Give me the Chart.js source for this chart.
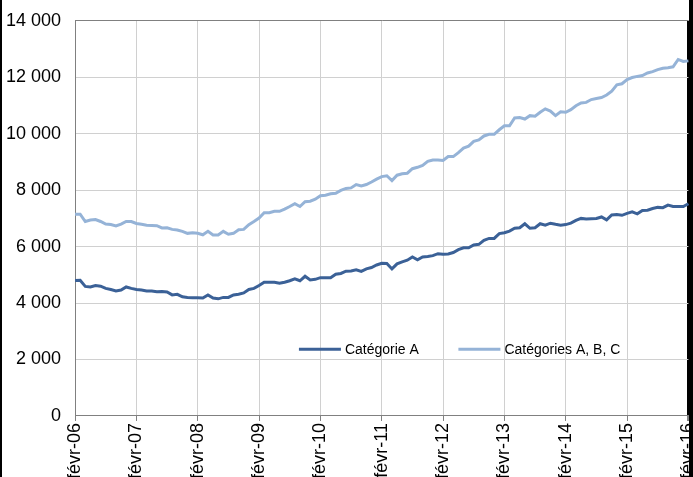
<!DOCTYPE html>
<html>
<head>
<meta charset="utf-8">
<script src="https://cdn.jsdelivr.net/npm/chart.js@4/dist/chart.umd.min.js"></script>
<style>
  html, body { margin: 0; padding: 0; background: #000; overflow: hidden; }
  #frame { position: absolute; left: 2px; top: 0; width: 687px; height: 477px; overflow: hidden; background: #fff; }
  #box { position: relative; left: -13px; top: -4px; width: 723px; height: 485px; }
</style>
</head>
<body>
<div id="frame"><div id="box"><canvas id="chart"></canvas></div></div>
<script>
// month names used for the category labels (févr-06 ... févr-16)
const monthNames = ['févr', 'mars', 'avr', 'mai', 'juin', 'juil', 'août', 'sept', 'oct', 'nov', 'déc', 'janv'];
const categories = [];
for (let i = 0; i <= 120; i++) {
    const year = 6 + Math.floor((i + 1) / 12);
    categories.push(monthNames[i % 12] + '-' + String(year).padStart(2, '0'));
}

const catA = [
    4800, 4810, 4590, 4570, 4620, 4600, 4520, 4480, 4430, 4460,
    4570, 4520, 4480, 4460, 4430, 4430, 4400, 4410, 4390, 4290,
    4310, 4220, 4200, 4190, 4190, 4180, 4290, 4180, 4150, 4200,
    4200, 4290, 4310, 4360, 4480, 4520, 4620, 4740, 4740, 4740,
    4700, 4740, 4790, 4860, 4790, 4950, 4820, 4840, 4900, 4900,
    4900, 5020, 5050, 5130, 5140, 5180, 5120, 5210, 5260, 5350,
    5410, 5400, 5210, 5390, 5460, 5520, 5630, 5530, 5630, 5650,
    5680, 5750, 5730, 5740, 5790, 5890, 5960, 5960, 6060, 6080,
    6220, 6290, 6290, 6460, 6490, 6550, 6650, 6670, 6810, 6650,
    6670, 6810, 6760, 6830, 6790, 6760, 6780, 6830, 6930, 7000,
    6980, 6990, 7000, 7050, 6950, 7120, 7140, 7110, 7180, 7230,
    7160, 7280, 7290, 7350, 7390, 7380, 7470, 7420, 7420, 7420,
    7520
];

const catABC = [
    7150, 7150, 6890, 6940, 6960, 6890, 6800, 6780, 6730, 6800,
    6890, 6890, 6820, 6790, 6760, 6750, 6740, 6660, 6670, 6610,
    6590, 6540, 6470, 6490, 6470, 6420, 6540, 6410, 6410, 6540,
    6440, 6470, 6600, 6610, 6780, 6890, 7010, 7200, 7200, 7250,
    7250, 7330, 7420, 7520, 7420, 7590, 7610, 7680, 7800, 7820,
    7870, 7890, 7990, 8060, 8080, 8200, 8150, 8200, 8290, 8390,
    8480, 8510, 8340, 8530, 8580, 8600, 8760, 8810, 8880, 9020,
    9070, 9070, 9050, 9190, 9190, 9330, 9490, 9560, 9730, 9780,
    9920, 9980, 9980, 10140, 10280, 10280, 10560, 10570, 10520, 10640,
    10620, 10760, 10880, 10800, 10640, 10780, 10760, 10850, 10990, 11090,
    11110, 11210, 11250, 11280, 11370, 11510, 11730, 11770, 11920, 11990,
    12030, 12060, 12150, 12200, 12270, 12320, 12340, 12370, 12630, 12560,
    12580
];

const yTicks = [0, 2000, 4000, 6000, 8000, 10000, 12000, 14000];

const FONT = '"Liberation Sans", Arial, sans-serif';

function spaced(v) {
    return String(v).replace(/\B(?=(\d{3})+(?!\d))/g, ' ');
}

// legend drawn inside the plot, as in the original
const inlineLegend = {
    id: 'inlineLegend',
    afterDraw(chart) {
        const ctx = chart.ctx;
        const a = chart.chartArea;
        const y = a.top + a.height * 0.831;
        const xs = [0.365, 0.625];
        ctx.save();
        ctx.font = '14px ' + FONT;
        ctx.textBaseline = 'middle';
        chart.data.datasets.forEach(function (ds, i) {
            const x = a.left + a.width * xs[i];
            ctx.strokeStyle = ds.borderColor;
            ctx.lineWidth = 3;
            ctx.beginPath();
            ctx.moveTo(x, y);
            ctx.lineTo(x + 42, y);
            ctx.stroke();
            ctx.fillStyle = '#000';
            ctx.fillText(ds.label, x + 46, y + 1);
        });
        ctx.restore();
    }
};

new Chart(document.getElementById('chart'), {
    type: 'line',
    data: {
        labels: categories,
        datasets: [
            {
                label: 'Catégorie A',
                data: catA,
                borderColor: '#3b6197',
                borderWidth: 3,
                pointRadius: 0,
                tension: 0,
                fill: false
            },
            {
                label: 'Catégories A, B, C',
                data: catABC,
                borderColor: '#95b3d7',
                borderWidth: 3,
                pointRadius: 0,
                tension: 0,
                fill: false
            }
        ]
    },
    options: {
        responsive: true,
        maintainAspectRatio: false,
        animation: false,
        layout: { padding: { left: 3, top: 0, right: 0, bottom: 0 } },
        plugins: {
            legend: { display: false },
            tooltip: { enabled: false },
            title: { display: false }
        },
        scales: {
            x: {
                grid: {
                    color: function (c) { return c.index % 12 === 0 ? (c.index === 120 ? '#000' : '#d0d0d0') : 'transparent'; },
                    tickColor: function (c) { return c.index % 12 === 0 ? '#808080' : 'transparent'; },
                    tickLength: 5,
                    lineWidth: function (c) { return c.index === 120 ? 2 : 1; }
                },
                border: { color: '#808080', width: 1 },
                ticks: {
                    autoSkip: false,
                    maxRotation: 90,
                    minRotation: 90,
                    padding: 2,
                    color: '#000',
                    font: { family: FONT, size: 18 },
                    callback: function (v, i) { return i % 12 === 0 ? categories[i] : ''; }
                }
            },
            y: {
                min: 0,
                max: 14000,
                afterBuildTicks: function (axis) { axis.ticks = yTicks.map(function (v) { return { value: v }; }); },
                grid: {
                    color: function (c) { return c.tick && c.tick.value === 14000 ? '#808080' : '#d0d0d0'; },
                    drawTicks: false
                },
                border: { color: '#808080', width: 1 },
                ticks: {
                    padding: 14,
                    color: '#000',
                    font: { family: FONT, size: 18 },
                    callback: function (v) { return spaced(v); }
                }
            }
        }
    },
    plugins: [inlineLegend]
});
</script>
</body>
</html>
